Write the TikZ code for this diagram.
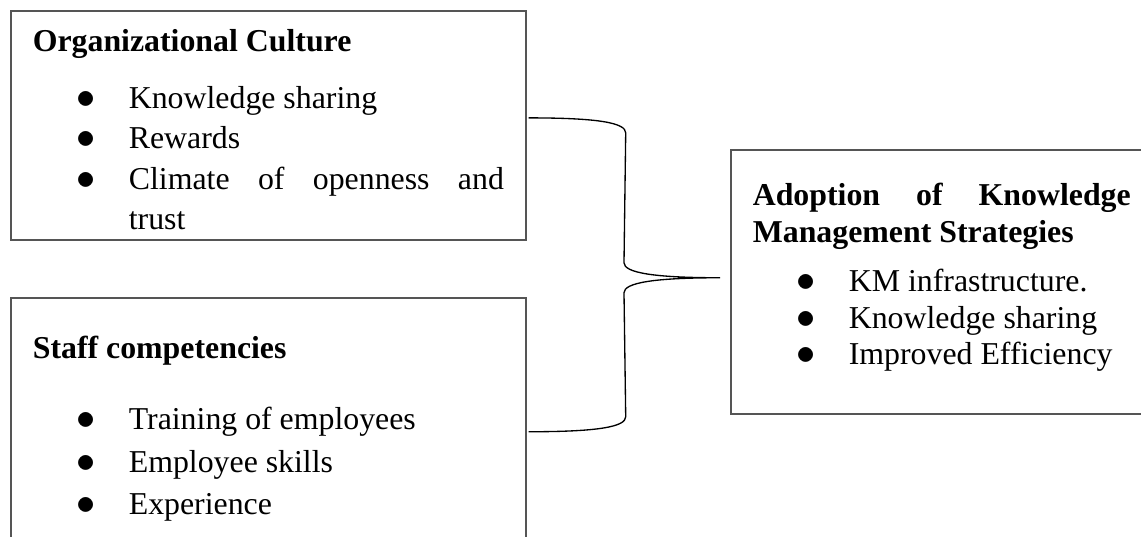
\documentclass[tikz,border=0pt]{standalone}
\usepackage{fontspec}
\setmainfont{Liberation Serif}
\usepackage{enumitem}
\usetikzlibrary{calc,positioning}
\definecolor{frame}{RGB}{85,85,85}
\newlist{factors}{itemize}{1}
\setlist[factors]{label={\fontsize{15}{15}\selectfont$\bullet$},nosep,leftmargin=36.2pt,
  labelindent=16.6pt,labelwidth=7.5pt,labelsep=*,align=left}

\begin{document}
\begin{tikzpicture}[x=0.377pt,y=-0.377pt,
    factorbox/.style={draw=frame,line width=0.6pt,anchor=north west,inner xsep=8.3pt,
      inner ysep=0pt,align=justify,font=\fontsize{12}{15.1}\selectfont},
    brc/.style={draw=black,line width=0.5pt}]
  \useasboundingbox (0,0) rectangle (1141,537);
  \clip (-20,-20) rectangle (1170,560);

  % independent variables
  \node[factorbox,text width=177.6pt,text height=15.5pt,text depth=70.9pt] (culture) at (10,10) {%
    \textbf{Organizational Culture}\par\vspace{6.4pt}
    \begin{factors}
      \item Knowledge sharing
      \item Rewards
      \item Climate of openness and\linebreak trust
    \end{factors}};
  \node[factorbox,text width=177.6pt,text height=23pt,text depth=78pt,
    font=\fontsize{12}{16}\selectfont] (staff) at (10,297) {%
    \textbf{Staff competencies}\par\vspace{10.8pt}
    \begin{factors}
      \item Training of employees
      \item Employee skills
      \item Experience
    \end{factors}};

  % dependent variable (right side runs off the page)
  \node[factorbox,text width=172.5pt,text height=21.1pt,text depth=78.4pt,
    font=\fontsize{12}{13.8}\selectfont] (adopt) at (730,149) {%
    \rightskip=30pt
    \textbf{Adoption of Knowledge Management Strategies}\par\vspace{4.7pt}
    \begin{factors}
      \item KM infrastructure.
      \item Knowledge sharing
      \item Improved Efficiency
    \end{factors}};

  \coordinate (bt) at ($(culture.east)+(2,-7.5)$);
  \coordinate (bb) at ($(staff.east)+(2,0)$);
  \coordinate (tp) at ($(adopt.west)+(-10,-4)$);
  \draw[brc] (bt) .. controls +(70,0) and +(0,-10) .. ++(97,15)
    -- ($(tp)+(-96,-15)$) .. controls +(0,10) and +(-66,0) .. (tp)
    .. controls +(-66,0) and +(0,-10) .. ($(tp)+(-96,15)$)
    -- ($(bb)+(97,-15)$) .. controls +(0,10) and +(70,0) .. (bb);
\end{tikzpicture}
\end{document}
